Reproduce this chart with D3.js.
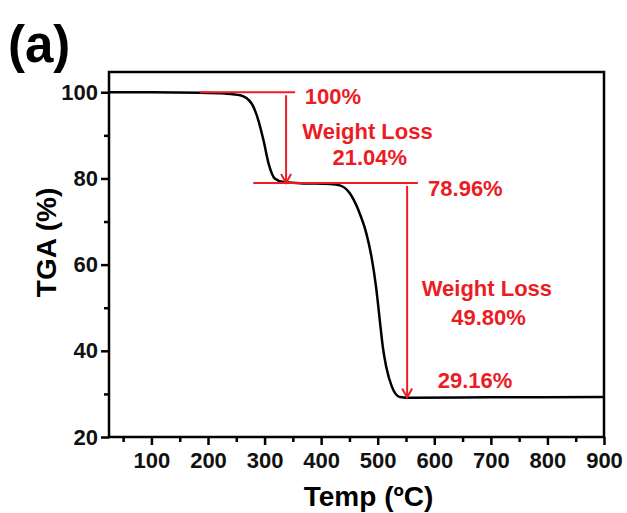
<!DOCTYPE html>
<html>
<head>
<meta charset="utf-8">
<script src="https://cdn.jsdelivr.net/npm/d3@7"></script>
<style>
  body { margin: 0; background: #fff; }
  text { font-family: "Liberation Sans", Arial, sans-serif; font-weight: bold; }
</style>
</head>
<body>
<div id="chart"></div>
<script>
// TGA curve
const temps = [25, 100, 186, 230, 257, 277, 289, 298, 307, 318, 333, 363, 416, 433, 451, 466, 480, 489, 497, 503, 509, 515, 525, 539, 560, 700, 900];
const tga   = [100, 100, 99.9, 99.7, 99.3, 97.4, 93.5, 88.9, 83.5, 80, 79.2, 78.9, 78.7, 78.4, 76.5, 72.6, 67.2, 61.8, 54.9, 47.9, 40.9, 36.3, 31.7, 29.3, 29.1, 29.2, 29.3];

const xTicks = [100, 200, 300, 400, 500, 600, 700, 800, 900];
const yTicks = [20, 40, 60, 80, 100];

const levels = [100, 78.96, 29.16];
const losses = ["21.04%", "49.80%"];

const width = 627, height = 513;
const margin = { top: 72, right: 23, bottom: 76, left: 109 };
const red = "#ec1c24";

const svg = d3.select("#chart").append("svg")
  .attr("width", width)
  .attr("height", height);

const x = d3.scaleLinear().domain([25, 900]).range([margin.left, width - margin.right]);
const y = d3.scaleLinear().domain([20, 104.7]).range([height - margin.bottom, margin.top]);

// axes
svg.append("g")
  .attr("transform", `translate(0,${height - margin.bottom})`)
  .call(d3.axisBottom(x).tickValues(xTicks).tickSize(8).tickPadding(7).tickSizeOuter(0));
svg.append("g")
  .attr("transform", `translate(0,${height - margin.bottom})`)
  .call(d3.axisBottom(x).tickValues(d3.range(50, 900, 100)).tickSize(5).tickFormat("").tickSizeOuter(0));

svg.append("g")
  .attr("transform", `translate(${margin.left},0)`)
  .call(d3.axisLeft(y).tickValues(yTicks).tickSize(8).tickPadding(3).tickSizeOuter(0));
svg.append("g")
  .attr("transform", `translate(${margin.left},0)`)
  .call(d3.axisLeft(y).tickValues([30, 50, 70, 90]).tickSize(5).tickFormat("").tickSizeOuter(0));

svg.selectAll(".tick line").attr("stroke", "#000").attr("stroke-width", 2.5);
svg.selectAll(".domain").remove();
svg.selectAll(".tick text")
  .attr("fill", "#111")
  .style("font-size", "22px");

// frame
svg.append("rect")
  .attr("x", margin.left)
  .attr("y", margin.top)
  .attr("width", width - margin.left - margin.right)
  .attr("height", height - margin.top - margin.bottom)
  .attr("fill", "none")
  .attr("stroke", "#000")
  .attr("stroke-width", 2.5);

// curve
const pts = temps.map((t, i) => [t, tga[i]]);
svg.append("path")
  .datum(pts)
  .attr("fill", "none")
  .attr("stroke", "#000")
  .attr("stroke-width", 2.5)
  .attr("d", d3.line().x(d => x(d[0])).y(d => y(d[1])).curve(d3.curveMonotoneX));

// annotations
const ann = svg.append("g").attr("stroke", red).attr("stroke-width", 2).attr("fill", "none");

ann.append("line")
  .attr("x1", x(186)).attr("x2", x(354))
  .attr("y1", y(levels[0])).attr("y2", y(levels[0]));
ann.append("line")
  .attr("x1", x(280)).attr("x2", x(571))
  .attr("y1", y(levels[1])).attr("y2", y(levels[1]));

function arrow(t, v0, v1) {
  const px = x(t), y0 = y(v0) + 3, y1 = y(v1);
  ann.append("line").attr("x1", px).attr("x2", px).attr("y1", y0).attr("y2", y1);
  ann.append("path").attr("d", `M${px - 5},${y1 - 9}L${px},${y1}L${px + 5},${y1 - 9}`);
}
arrow(338, levels[0], levels[1]);
arrow(552, levels[1], levels[2]);

const lab = svg.append("g").attr("fill", red).style("font-size", "22px");
lab.append("text").attr("x", x(371)).attr("y", y(97.2)).text(levels[0] + "%");
lab.append("text").attr("x", x(482)).attr("y", y(89.1)).attr("text-anchor", "middle").text("Weight Loss");
lab.append("text").attr("x", x(486)).attr("y", y(83.1)).attr("text-anchor", "middle").text(losses[0]);
lab.append("text").attr("x", x(589)).attr("y", y(75.9)).text(levels[1].toFixed(2) + "%");
lab.append("text").attr("x", x(693)).attr("y", y(52.7)).attr("text-anchor", "middle").text("Weight Loss");
lab.append("text").attr("x", x(696)).attr("y", y(46.0)).attr("text-anchor", "middle").text(losses[1]);
lab.append("text").attr("x", x(672)).attr("y", y(31.4)).attr("text-anchor", "middle").text(levels[2].toFixed(2) + "%");

// titles
svg.append("text")
  .attr("x", (margin.left + width - margin.right) / 2 + 12)
  .attr("y", 506)
  .attr("text-anchor", "middle")
  .style("font-size", "28px")
  .text("Temp (ºC)");

svg.append("text")
  .attr("transform", `translate(56,${(margin.top + height - margin.bottom) / 2 - 12}) rotate(-90)`)
  .attr("text-anchor", "middle")
  .style("font-size", "28px")
  .text("TGA (%)");

svg.append("text")
  .attr("x", 8)
  .attr("y", 62)
  .style("font-size", "51px")
  .text("(a)");
</script>
</body>
</html>
